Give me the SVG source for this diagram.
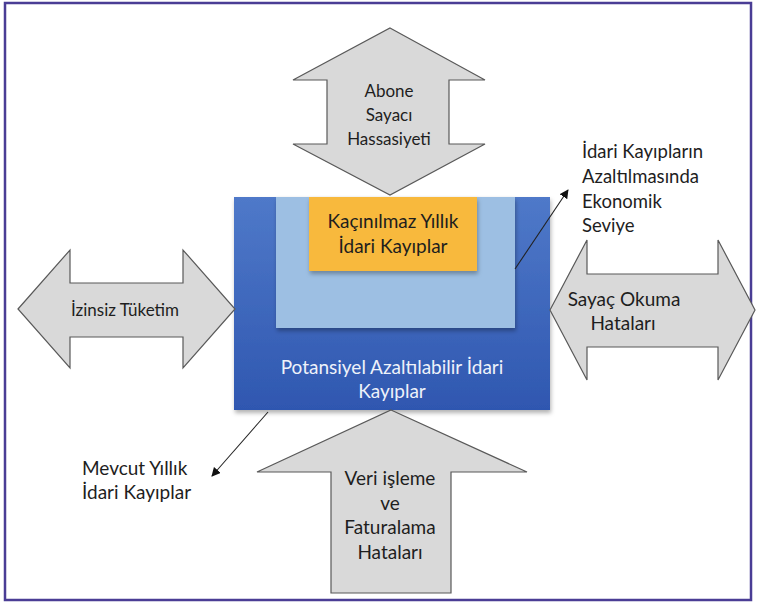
<svg xmlns="http://www.w3.org/2000/svg" width="758" height="610" viewBox="0 0 758 610">
<style>
.t{font-family:Lato,"Liberation Sans",sans-serif;fill:#1e1e1e;text-anchor:middle;font-size:19px}
.s{font-size:17px}
.l{font-family:Lato,"Liberation Sans",sans-serif;fill:#1e1e1e;font-size:18.5px}
.arr{fill:#d9d9d9;stroke:#595959;stroke-width:1.2;stroke-linejoin:miter}
.ptr{stroke:#222;stroke-width:1.1;fill:none}
</style>
<defs>
<linearGradient id="blue" x1="0" y1="0" x2="0" y2="1">
<stop offset="0" stop-color="#4f79c9"/>
<stop offset="1" stop-color="#2f57b0"/>
</linearGradient>
<filter id="sh" x="-10%" y="-10%" width="120%" height="125%">
<feDropShadow dx="1" dy="3" stdDeviation="2" flood-color="#000" flood-opacity="0.3"/>
</filter>
<marker id="ah" viewBox="0 0 10 10" refX="9" refY="5" markerWidth="9" markerHeight="9" orient="auto" markerUnits="userSpaceOnUse">
<path d="M0,0 L10,5 L0,10 Z" fill="#111"/>
</marker>
</defs>
<rect x="5" y="3" width="746" height="597" fill="#fff" stroke="#4a3d95" stroke-width="2.5"/>
<g id="main">
<rect x="234" y="197" width="316" height="213" fill="url(#blue)" filter="url(#sh)"/>
<rect x="276" y="197" width="239" height="131" fill="#9dbfe3" filter="url(#sh)"/>
<rect x="309" y="197" width="168" height="74" fill="#f8b93c" filter="url(#sh)"/>
<text class="t" x="393" y="228">Kaçınılmaz Yıllık</text>
<text class="t" x="393" y="253">İdari Kayıplar</text>
<text class="t" x="392" y="374" style="fill:#eef2fa">Potansiyel Azaltılabilir İdari</text>
<text class="t" x="392" y="398" style="fill:#eef2fa">Kayıplar</text>
</g>
<g id="abone">
<polygon class="arr" points="390,28 485,80 449,80 449,144 485,144 390,195 293,144 327,144 327,80 293,80"/>
<text class="t s" x="389" y="97">Abone</text>
<text class="t s" x="389" y="121">Sayacı</text>
<text class="t s" x="389" y="145">Hassasiyeti</text>
</g>
<g id="izinsiz">
<polygon class="arr" points="18,309 70,250 70,283 183,283 183,250 235,309 183,368 183,337 70,337 70,368"/>
<text class="t s" x="125" y="316">İzinsiz Tüketim</text>
</g>
<g id="sayac">
<polygon class="arr" points="550,310 587,240 587,274 718,274 718,240 755,310 718,380 718,347 587,347 587,380"/>
<text class="t" x="624" y="306">Sayaç Okuma</text>
<text class="t" x="623" y="330">Hataları</text>
</g>
<g id="veri">
<polygon class="arr" points="391,410 527,472 451,472 451,593 331,593 331,472 257,472"/>
<text class="t" x="390" y="485">Veri işleme</text>
<text class="t" x="390" y="510">ve</text>
<text class="t" x="390" y="534">Faturalama</text>
<text class="t" x="390" y="559">Hataları</text>
</g>
<g id="ekonomik">
<text class="l" x="582" y="158">İdari Kayıpların</text>
<text class="l" x="582" y="183">Azaltılmasında</text>
<text class="l" x="582" y="208">Ekonomik</text>
<text class="l" x="582" y="232">Seviye</text>
</g>
<g id="mevcut">
<text class="l" x="82" y="475" style="font-size:19px">Mevcut Yıllık</text>
<text class="l" x="82" y="499" style="font-size:19px">İdari Kayıplar</text>
</g>
<g id="connectors">
<line class="ptr" x1="515" y1="269" x2="568" y2="190" marker-end="url(#ah)"/>
<line class="ptr" x1="268" y1="412" x2="212" y2="476" marker-end="url(#ah)"/>
</g>
</svg>
